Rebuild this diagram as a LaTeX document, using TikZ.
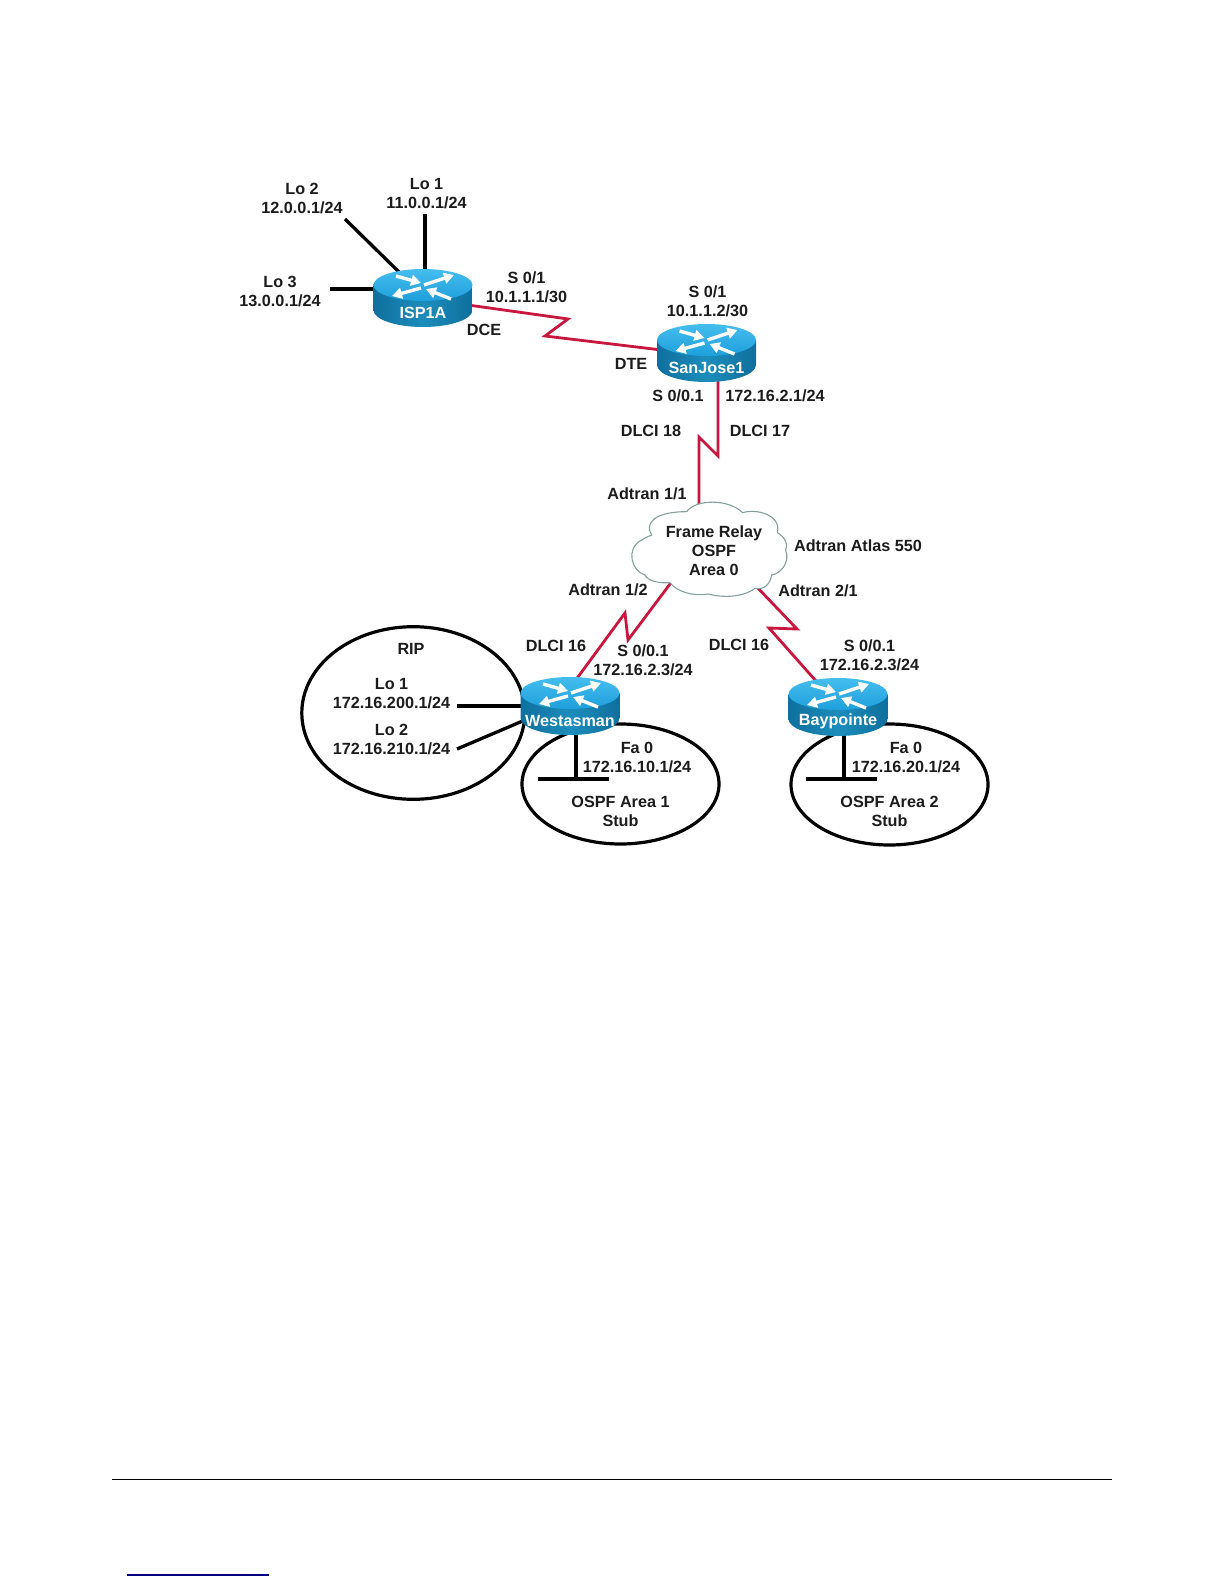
\documentclass[tikz,border=0pt]{standalone}
\usepackage{fontspec}
\setmainfont{Liberation Sans}
\usetikzlibrary{arrows.meta,shapes.geometric}
\pgfdeclarelayer{fg}
\pgfsetlayers{main,fg}
\definecolor{linkred}{HTML}{C8163F}
\definecolor{textdark}{HTML}{1C1C1C}
\definecolor{routertopA}{HTML}{45BDEE}
\definecolor{routertopB}{HTML}{1E9FDC}
\definecolor{routersideA}{HTML}{1C8DBB}
\definecolor{routersideB}{HTML}{0F6F9E}
\definecolor{cloudline}{HTML}{86A0A0}
\definecolor{footblue}{HTML}{000080}
\tikzset{
  lbl/.style={font=\bfseries\fontsize{8.1}{9.5}\selectfont,text=textdark,align=center,inner sep=0pt},
  routerbox/.style={rectangle,minimum width=49pt,minimum height=28.5pt,inner sep=0pt,font=\bfseries\fontsize{8.1}{9.5}\selectfont,text=white},
  routertop/.style={top color=routertopA,bottom color=routertopB,draw=none},
  routerside/.style={left color=routersideB,right color=routersideB,middle color=routersideA,draw=none},
  routerarrow/.style={draw=white,line width=1.7pt,-{Triangle[width=5.4pt,length=5pt]}},
  blackline/.style={draw=black,line width=1.65pt},
  redlink/.style={draw=linkred,line width=1.4pt,line join=miter},
  area/.style={ellipse,draw=black,line width=1.6pt,inner sep=0pt,fill=none},
  cloudshape/.style={draw=cloudline,line width=0.55pt,fill=white},
  cloudbox/.style={rectangle,minimum width=60pt,minimum height=30pt,inner sep=0pt,align=center,font=\bfseries\fontsize{8.1}{9.5}\selectfont,text=textdark},
}
% router: name, centre x, centre y, label
\newcommand{\routerat}[4]{%
  \begin{scope}[shift={(#2,#3)}]
    \path[routerside] (-49.5,-13) -- (-49.5,12) arc[start angle=180,end angle=0,x radius=49.5,y radius=17] -- (49.5,-13) -- cycle;
    \path[routertop] (0,-13) ellipse [x radius=49.5,y radius=16];
    \draw[routerarrow] (-27,-22) -- (-2,-15);
    \draw[routerarrow] (1,-13) -- (31,-23);
    \draw[routerarrow] (-2,-10) -- (-31,-2);
    \draw[routerarrow] (28,1) -- (3,-9);
  \end{scope}
  \node[routerbox] (#1) at (#2,#3) {};
  \node[routerbox,minimum width=0pt,minimum height=0pt] (#1label) at (#2,#3+14.5) {#4};
}
\begin{document}
\begin{tikzpicture}[x=0.5pt,y=-0.5pt]
\useasboundingbox[fill=white] (0,0) rectangle (1224,1584);

% routers and cloud on top of the links
\begin{pgfonlayer}{fg}
  \routerat{isp}{423}{298}{ISP1A}
  \routerat{sj}{706.5}{353}{SanJose1}
  \routerat{west}{570}{706}{Westasman}
  \routerat{bay}{838}{707}{Baypointe}
  \begin{scope}[shift={(620,490)},x=0.16667pt,y=-0.16667pt]
    \path[cloudshape] (200,65)
      .. controls (225,28) and (325,25) .. (368,68)
      .. controls (410,55) and (485,75) .. (472,128)
      .. controls (495,140) and (505,165) .. (497,180)
      .. controls (510,215) and (485,250) .. (455,255)
      .. controls (450,285) and (430,300) .. (405,295)
      .. controls (365,325) and (300,322) .. (265,312)
      .. controls (220,320) and (170,305) .. (150,278)
      .. controls (120,280) and (85,275) .. (75,255)
      .. controls (35,245) and (15,175) .. (65,150)
      .. controls (80,140) and (90,138) .. (95,135)
      .. controls (75,105) and (95,65) .. (200,65) -- cycle;
  \end{scope}
  \node[cloudbox] (cloud) at (714,551) {Frame Relay\\OSPF\\Area 0};
\end{pgfonlayer}

% areas
\node[area,minimum width=111.5pt,minimum height=86.3pt] (rip) at (413.3,713) {};
\node[area,minimum width=98.5pt,minimum height=60pt] (areaone) at (620.5,784) {};
\node[area,minimum width=98.5pt,minimum height=60.5pt] (areatwo) at (889.5,784.5) {};

% free ends
\coordinate (ispLoOne) at (425,214);
\coordinate (ispLoTwo) at (345,219);
\coordinate (ispLoThree) at (330,289);
\coordinate (westLoOne) at (457,706);
\coordinate (westLoTwo) at (457,749);
\coordinate (westBarL) at (538,779);
\coordinate (westBarR) at (609,779);
\coordinate (westBarM) at (576,779);
\coordinate (bayBarL) at (806,779);
\coordinate (bayBarR) at (877,779);
\coordinate (bayBarM) at (844,779);

% black links
\draw[blackline] (ispLoOne) -- ([shift={(2,-25)}]isp.center);
\draw[blackline] (ispLoTwo) -- ([shift={(-22,-24)}]isp.center);
\draw[blackline] (ispLoThree) -- ([shift={(-45,-9)}]isp.center);
\draw[blackline] (westLoOne) -- ([shift={(-40,0)}]west.center);
\draw[blackline] (westLoTwo) -- ([shift={(-45,14)}]west.center);
\draw[blackline] (westBarM) -- ([shift={(6,20)}]west.center);
\draw[blackline] (westBarL) -- (westBarR);
\draw[blackline] (bayBarM) -- ([shift={(6,20)}]bay.center);
\draw[blackline] (bayBarL) -- (bayBarR);

% red links with zigzag
\draw[redlink] ([shift={(45,7)}]isp.center) -- (568,319) -- (545,336) -- ([shift={(-45,-3)}]sj.center);
\draw[redlink] ([shift={(11.5,20)}]sj.center) -- (718,456) -- (699,437) -- ([shift={(-15,-40)}]cloud.center);
\draw[redlink] ([shift={(5,-25)}]west.center) -- (625,613) -- (628,640) -- ([shift={(-38,25)}]cloud.center);
\draw[redlink] ([shift={(40,33)}]cloud.center) -- (797,629) -- (769,628) -- ([shift={(-22,-26)}]bay.center);

% labels
\node[lbl] (a1) at (302,198.5) {Lo 2\\12.0.0.1/24};
\node[lbl] (a2) at (426.5,194) {Lo 1\\11.0.0.1/24};
\node[lbl] (a3) at (280,291.5) {Lo 3\\13.0.0.1/24};
\node[lbl] (a4) at (526.5,287.5) {S 0/1\\10.1.1.1/30};
\node[lbl] (a5) at (484,330) {DCE};
\node[lbl] (a6) at (707.5,301) {S 0/1\\10.1.1.2/30};
\node[lbl] (a7) at (631,364) {DTE};
\node[lbl] (a8) at (678,396) {S 0/0.1};
\node[lbl] (a9) at (775,396) {172.16.2.1/24};
\node[lbl] (a10) at (651,431) {DLCI 18};
\node[lbl] (a11) at (760,431) {DLCI 17};
\node[lbl] (a12) at (647,494) {Adtran 1/1};
\node[lbl] (a13) at (858,546) {Adtran Atlas 550};
\node[lbl] (a14) at (818,591) {Adtran 2/1};
\node[lbl] (a15) at (608,590) {Adtran 1/2};
\node[lbl] (a16) at (556,646) {DLCI 16};
\node[lbl] (a17) at (643,660) {S 0/0.1\\172.16.2.3/24};
\node[lbl] (a18) at (411,649) {RIP};
\node[lbl] (a19) at (391.5,693.5) {Lo 1\\172.16.200.1/24};
\node[lbl] (a20) at (391.5,739.5) {Lo 2\\172.16.210.1/24};
\node[lbl] (a21) at (637,757.5) {Fa 0\\172.16.10.1/24};
\node[lbl] (a22) at (620.5,811.5) {OSPF Area 1\\Stub};
\node[lbl] (a23) at (739,645) {DLCI 16};
\node[lbl] (a24) at (869.5,655.5) {S 0/0.1\\172.16.2.3/24};
\node[lbl] (a25) at (906,757.5) {Fa 0\\172.16.20.1/24};
\node[lbl] (a26) at (889.5,811.5) {OSPF Area 2\\Stub};

% page rules
\coordinate (ruleL) at (112,1479.5);
\coordinate (ruleR) at (1112,1479.5);
\coordinate (blueL) at (127,1575);
\coordinate (blueR) at (269,1575);
\draw[black,line width=0.6pt] (ruleL) -- (ruleR);
\draw[footblue,line width=0.6pt] (blueL) -- (blueR);
\end{tikzpicture}
\end{document}
